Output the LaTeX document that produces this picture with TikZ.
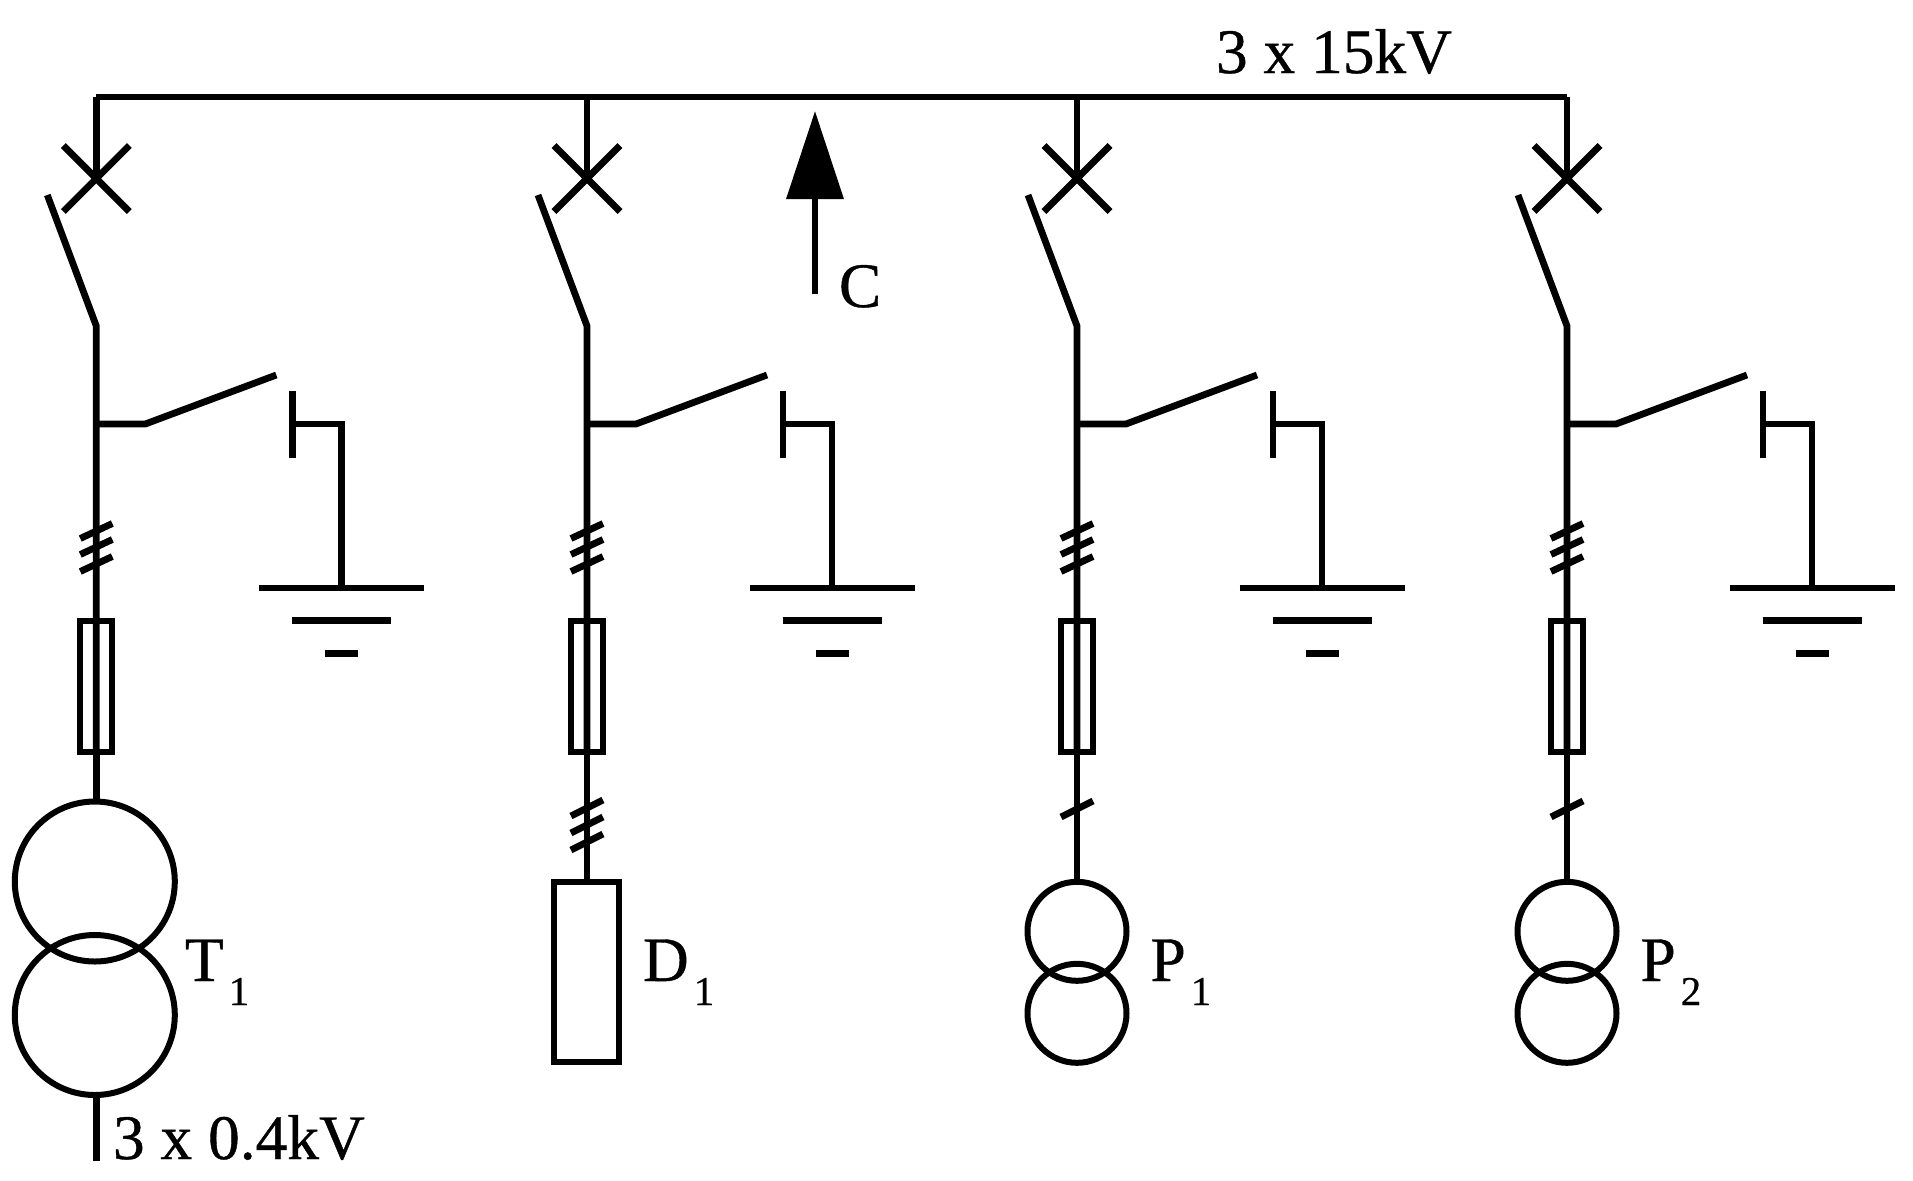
\documentclass[tikz,border=0pt]{standalone}
\usepackage{fontspec}
\setmainfont{Liberation Serif}
\newfontfamily\capfont[FakeBold=0.6]{Liberation Serif}
\usetikzlibrary{arrows.meta}
\newcommand{\lowidx}[1]{\raisebox{-12pt}{\fontsize{20.5}{20.5}\capfont\hspace{2.5pt}#1}}

\begin{document}
\begin{tikzpicture}[x=0.5pt,y=-0.5pt,every node/.style={outer sep=0pt,inner sep=0pt},
    wire/.style={line width=3.4pt},
    fusebox/.style={draw,shape=rectangle,line width=3pt,minimum width=16pt,minimum height=65.5pt},
    winding/.style={draw,shape=circle,line width=3pt},
    dryer/.style={draw,shape=rectangle,line width=3pt,minimum width=32.5pt,minimum height=90pt},
    caption/.style={anchor=base west,font=\fontsize{31.7}{31.7}\capfont}]
    \useasboundingbox (0,0) rectangle (1913,1180);
    \foreach \i/\x in {1/96.3,2/587,3/1077,4/1567}{
        \begin{scope}[shift={(\x,0)}]
            \coordinate (bus\i) at (0,97);
            \coordinate (cross\i) at (0,178.5);
            \coordinate (blade\i) at (-49,195);
            \coordinate (hinge\i) at (0,326);
            \coordinate (tee\i) at (0,424);
            \coordinate (knee\i) at (49,424);
            \coordinate (arm\i) at (180,375);
            \coordinate (contact\i) at (196,424);
            \coordinate (corner\i) at (245,424);
            \coordinate (earth\i) at (245,588);
            \node[fusebox] (fuse\i) at (-0.5,686) {};
            \draw[wire] (bus\i) -- (cross\i);
            \draw[wire] (cross\i) +(-33,-33) -- +(33,33) (cross\i) +(33,-33) -- +(-33,33);
            \draw[wire] (blade\i) -- (hinge\i) -- (hinge\i |- fuse\i.south);
            \draw[wire] (tee\i) -- (knee\i) -- (arm\i);
            \draw[wire] (196,391) -- (196,458);
            \draw[wire] (contact\i) -- (corner\i) -- (earth\i);
            \draw[wire] (245-82.5,588) -- (245+82.5,588);
            \draw[wire] (245-49.5,620.5) -- (245+49.5,620.5);
            \draw[wire] (245-16.5,653.5) -- (245+16.5,653.5);
            \foreach \y in {531,547,564}
                \draw[wire] (-16,\y+7.5) -- (16,\y-7.5);
        \end{scope}
    }
    \draw[wire] (bus1) -- (bus4);
    \node[caption] (busname) at (1216,73) {3 x 15kV};
    % view arrow
    \coordinate (viewfoot) at (815,294);
    \coordinate (viewtip) at (815,111);
    \draw[wire,-{Triangle[length=44pt,width=28pt]}] (viewfoot) -- (viewtip);
    \node[caption] (viewname) at (839,307) {C};
    % loads
    \node[winding,minimum size=80pt] (T1a) at (94.8,881.5) {};
    \node[winding,minimum size=80pt] (T1b) at (94.8,1015) {};
    \coordinate (lowside) at (96.3,1160.5);
    \draw[wire] (hinge1 |- fuse1.south) -- (hinge1 |- T1a.north);
    \draw[wire] (lowside |- T1b.south) -- (lowside);
    \node[caption] (T1name) at (185,981) {T\lowidx{1}};
    \node[caption] (lowname) at (113,1159) {3 x 0.4kV};
    \node[dryer] (D1) at (586.5,972) {};
    \draw[wire] (hinge2 |- fuse2.south) -- (hinge2 |- D1.north);
    \foreach \y in {808,825,842}
        \draw[wire] (587-16,\y+8) -- (587+16,\y-8);
    \node[caption] (D1name) at (643,981) {D\lowidx{1}};
    \foreach \i/\x in {1/1077,2/1567}{
        \node[winding,minimum size=49.5pt] (P\i a) at (\x,931.3) {};
        \node[winding,minimum size=49.5pt] (P\i b) at (\x,1013.3) {};
        \draw[wire] (\x-16,817) -- (\x+16,801);
        \node[caption] (P\i name) at (\x+73.5,981) {P\lowidx{\i}};
    }
    \draw[wire] (hinge3 |- fuse3.south) -- (P1a.north);
    \draw[wire] (hinge4 |- fuse4.south) -- (P2a.north);
\end{tikzpicture}
\end{document}
